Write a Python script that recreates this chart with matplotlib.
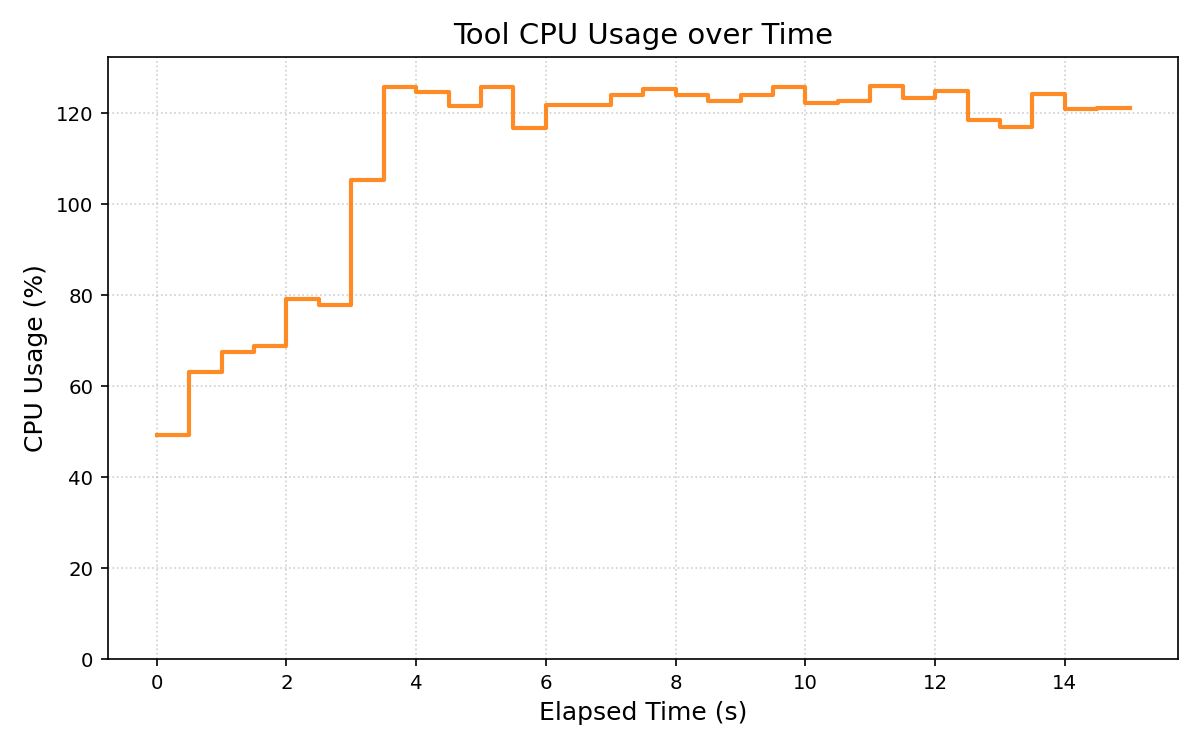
import matplotlib
matplotlib.use("Agg")
import matplotlib.pyplot as plt

# elapsed time in seconds, sampled every 0.5 s
elapsed = [i * 0.5 for i in range(31)]
cpu_usage = [
    49.3, 63.2, 67.5, 68.9, 79.1, 77.8, 105.4, 125.9, 124.7, 121.6,
    125.8, 116.9, 121.9, 121.9, 124.1, 125.4, 124.1, 122.7, 124.1, 125.9,
    122.3, 122.7, 126.1, 123.4, 125.0, 118.5, 117.0, 124.3, 120.9, 121.2,
    121.2,
]

fig, ax = plt.subplots(figsize=(8, 5), dpi=150)
ax.step(elapsed, cpu_usage, where="post", color="#ff7f0e", alpha=0.9, linewidth=2)

ax.set_title("Tool CPU Usage over Time", fontsize=14)
ax.set_xlabel("Elapsed Time (s)", fontsize=12)
ax.set_ylabel("CPU Usage (%)", fontsize=12)
ax.tick_params(labelsize=9.5)
ax.set_ylim(0, max(cpu_usage) * 1.05)
ax.grid(True, linestyle=":", alpha=0.6)

fig.subplots_adjust(left=0.09, right=0.982, top=0.924, bottom=0.121)
fig.savefig("out.png")
